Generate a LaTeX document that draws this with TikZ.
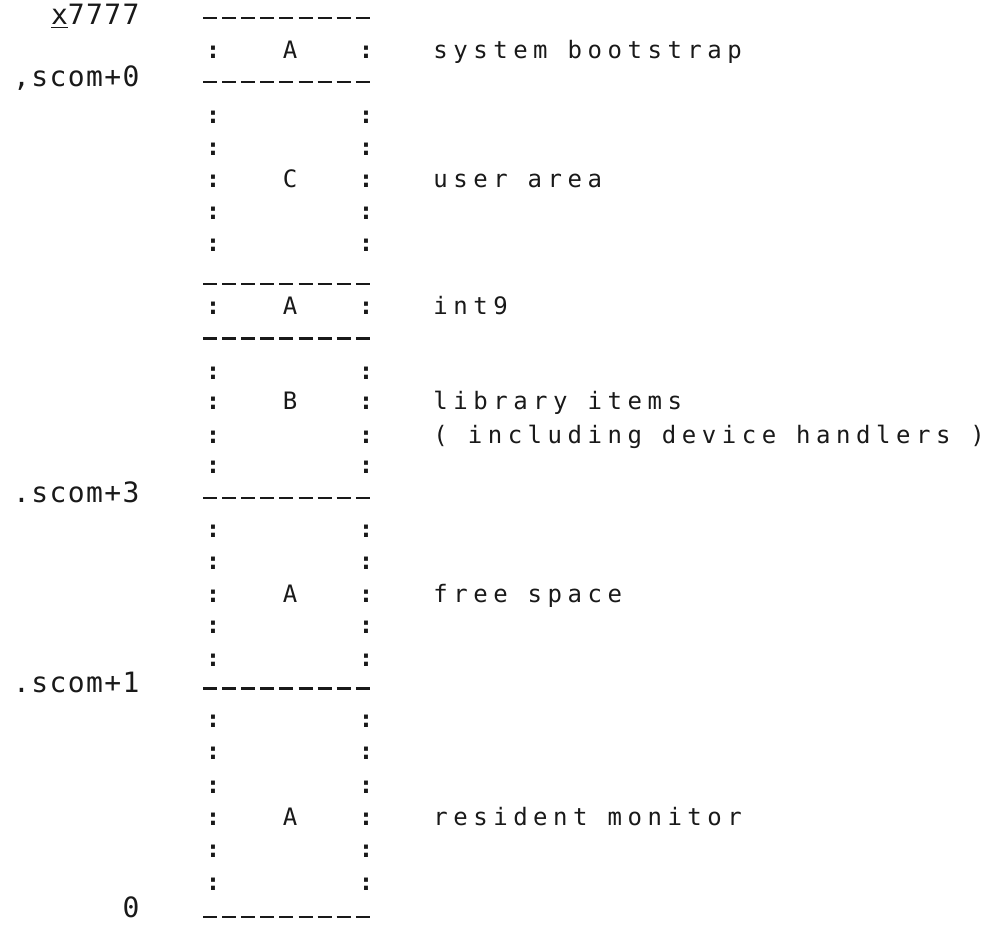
\documentclass[tikz,border=0pt]{standalone}
\usepackage{fontspec}
\setmonofont{DejaVu Sans Mono}[LetterSpace=23]
\definecolor{ink}{RGB}{25, 25, 25}

\begin{document}
\begin{tikzpicture}[x=0.5pt, y=-0.5pt, ink, font=\ttfamily\fontsize{12}{14}\selectfont,
  sep/.style={line width=1.1pt, dash pattern=on 7pt off 2.55pt},
  addr/.style={anchor=mid east, inner sep=0pt,
    font=\ttfamily\fontsize{14}{16}\selectfont\addfontfeatures{LetterSpace=5}},
  what/.style={anchor=mid west, inner sep=0pt},
  kind/.style={anchor=mid, inner sep=0pt},
  colon/.style={anchor=mid, inner sep=0pt, font=\ttfamily\bfseries\fontsize{12}{14}\selectfont}]
  \useasboundingbox (0,0) rectangle (994,940);
  % section boundaries
  \draw[sep] (203,18) -- (372,18);
  \draw[sep] (203,82) -- (372,82);
  \draw[sep] (203,284) -- (372,284);
  \draw[sep] (203,338.5) -- (372,338.5);
  \draw[sep] (203,498) -- (372,498);
  \draw[sep] (203,688.5) -- (372,688.5);
  \draw[sep] (203,917) -- (372,917);
  % box sides
  \foreach \y [count=\i] in {54.5, 119.5, 151, 183.6, 215, 247, 310, 375, 405.5, 439, 469.6,
      532.7, 565, 598, 629, 662, 723, 755.5, 789, 821.6, 853, 885.7}
    {\node[colon] (lc\i) at (213,\y) {:};
     \node[colon] (rc\i) at (366,\y) {:};}
  % addresses
  \node[addr] (top) at (140,20) {\underline{x}7777};
  \node[addr] (scom0) at (140,82) {,scom+0};
  \node[addr] (scom3) at (140,498) {.scom+3};
  \node[addr] (scom1) at (140,688.5) {.scom+1};
  \node[addr] (zero) at (140,913) {0};
  % area kinds
  \node[kind] (kboot) at (290,54.5) {A};
  \node[kind] (kuser) at (290,183.6) {C};
  \node[kind] (kint) at (290,310) {A};
  \node[kind] (klib) at (290,405.5) {B};
  \node[kind] (kfree) at (290,598) {A};
  \node[kind] (kres) at (290,821.6) {A};
  % descriptions
  \node[what] (boot) at (433,54.5) {system bootstrap};
  \node[what] (user) at (433,183.6) {user area};
  \node[what] (int) at (433,310) {int9};
  \node[what] (lib) at (433,405.5) {library items};
  \node[what] (dev) at (433,439) {( including device handlers )};
  \node[what] (free) at (433,598) {free space};
  \node[what] (res) at (433,821.6) {resident monitor};
\end{tikzpicture}
\end{document}
